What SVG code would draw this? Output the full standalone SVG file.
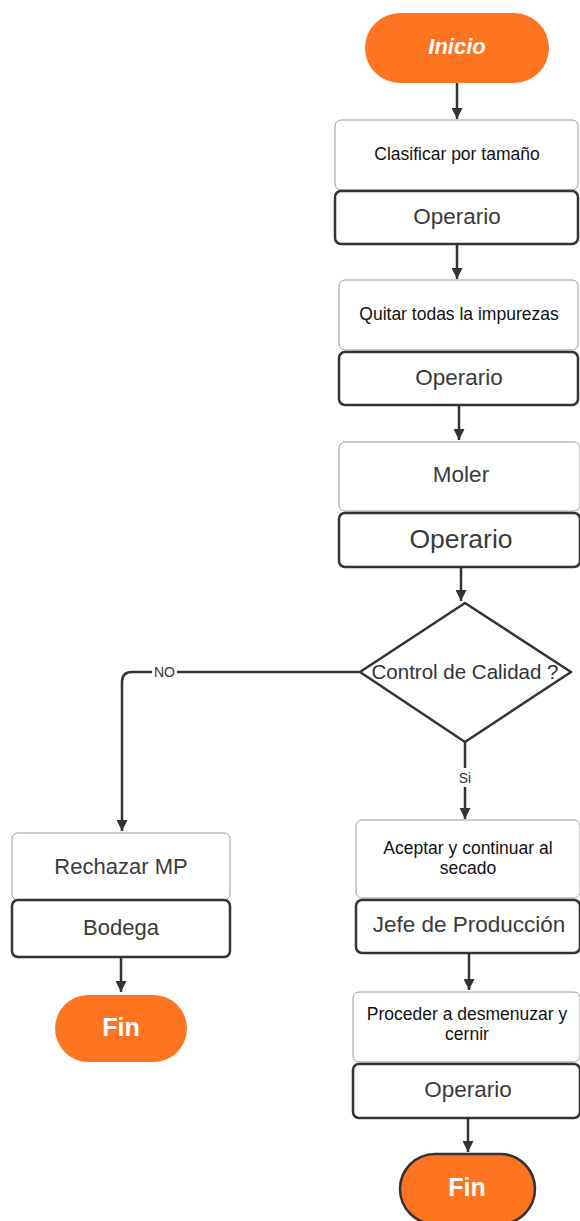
<svg xmlns="http://www.w3.org/2000/svg" width="580" height="1221" viewBox="0 0 580 1221">
  <style>
    .term { fill: #ff7420; }
    .task { fill: #ffffff; stroke: #9a9a9a; stroke-width: 1; }
    .role { fill: #ffffff; stroke: #333333; stroke-width: 2.5; }
    .dec { fill: #ffffff; stroke: #333333; stroke-width: 2.5; stroke-linejoin: round; }
    .edge { fill: none; stroke: #333333; stroke-width: 2.5; }
    .t { font-family: "Liberation Sans", Arial, sans-serif; text-anchor: middle; dominant-baseline: central; }
    .tw { fill: #ffffff; font-weight: bold; }
    .tb { fill: #111111; font-size: 17.5px; }
    .tg { fill: #3a3a3a; font-size: 22.5px; }
    .lab { fill: #333333; font-size: 14px; }
  </style>
  <defs>
    <marker id="arrow" viewBox="0 0 10 10" refX="10" refY="5" markerWidth="5.4" markerHeight="4.4" orient="auto" markerUnits="strokeWidth">
      <path d="M0,0 L10,5 L0,10 Z" fill="#333333"/>
    </marker>
  </defs>

  <g id="connectors">
    <path class="edge" d="M457,83 V119" marker-end="url(#arrow)"/>
    <path class="edge" d="M457,245 V279" marker-end="url(#arrow)"/>
    <path class="edge" d="M459,406 V440" marker-end="url(#arrow)"/>
    <path class="edge" d="M461,567 V601" marker-end="url(#arrow)"/>
    <path class="edge" d="M360,672 H132 Q122,672 122,682 V831" marker-end="url(#arrow)"/>
    <path class="edge" d="M465,742 V819" marker-end="url(#arrow)"/>
    <path class="edge" d="M121,957 V992" marker-end="url(#arrow)"/>
    <path class="edge" d="M469,954 V990" marker-end="url(#arrow)"/>
    <path class="edge" d="M468,1118 V1152" marker-end="url(#arrow)"/>
    <rect x="152" y="663" width="25" height="17" fill="#ffffff"/>
    <text class="t lab" x="164.5" y="671.5">NO</text>
    <rect x="457" y="768" width="16" height="19" fill="#ffffff"/>
    <text class="t lab" x="465" y="778">Si</text>
  </g>

  <g id="inicio">
    <rect class="term" x="365" y="13" width="184" height="70" rx="35"/>
    <text class="t tw" x="457" y="46" font-size="22" font-style="italic">Inicio</text>
  </g>

  <g id="clasificar">
    <rect class="task" x="335" y="120" width="243" height="70" rx="6"/>
    <text class="t tb" x="457" y="154">Clasificar por tamaño</text>
    <rect class="role" x="335" y="191" width="243" height="53" rx="6"/>
    <text class="t tg" x="457" y="216">Operario</text>
  </g>

  <g id="quitar">
    <rect class="task" x="339" y="280" width="239" height="70" rx="6"/>
    <text class="t tb" x="459" y="314">Quitar todas la impurezas</text>
    <rect class="role" x="339" y="352" width="239" height="53" rx="6"/>
    <text class="t tg" x="459" y="377">Operario</text>
  </g>

  <g id="moler">
    <rect class="task" x="339" y="442" width="241" height="69" rx="6"/>
    <text class="t tg" x="461" y="474" font-size="22px">Moler</text>
    <rect class="role" x="339" y="513" width="241" height="54" rx="6"/>
    <text class="t tg" x="461" y="539" style="font-size:26.5px">Operario</text>
  </g>

  <g id="control">
    <path class="dec" d="M465,603 L571,672 L465,742 L360,672 Z"/>
    <text class="t" x="465" y="671" font-size="20.5" fill="#333333">Control de Calidad ?</text>
  </g>

  <g id="rechazar">
    <rect class="task" x="12" y="833" width="218" height="67" rx="6"/>
    <text class="t tg" x="121" y="866" style="font-size:22px">Rechazar MP</text>
    <rect class="role" x="12" y="900" width="218" height="57" rx="6"/>
    <text class="t tg" x="121" y="927" style="font-size:22px">Bodega</text>
  </g>

  <g id="fin-no">
    <rect class="term" x="55" y="995" width="132" height="67" rx="33.5"/>
    <text class="t tw" x="121" y="1027" font-size="25">Fin</text>
  </g>

  <g id="aceptar">
    <rect class="task" x="356" y="820" width="224" height="78" rx="6"/>
    <text class="t tb" x="468" y="848">Aceptar y continuar al</text>
    <text class="t tb" x="468" y="868">secado</text>
    <rect class="role" x="356" y="900" width="224" height="53" rx="6"/>
    <text class="t tg" x="469" y="924">Jefe de Producción</text>
  </g>

  <g id="proceder">
    <rect class="task" x="353" y="992" width="227" height="70" rx="6"/>
    <text class="t tb" x="467" y="1014">Proceder a desmenuzar y</text>
    <text class="t tb" x="467" y="1034">cernir</text>
    <rect class="role" x="353" y="1064" width="227" height="54" rx="6"/>
    <text class="t tg" x="468" y="1089">Operario</text>
  </g>

  <g id="fin-si">
    <rect class="term" x="400" y="1154" width="135" height="70" rx="35" stroke="#333333" stroke-width="2.5"/>
    <text class="t tw" x="467" y="1187" font-size="25">Fin</text>
  </g>
</svg>
